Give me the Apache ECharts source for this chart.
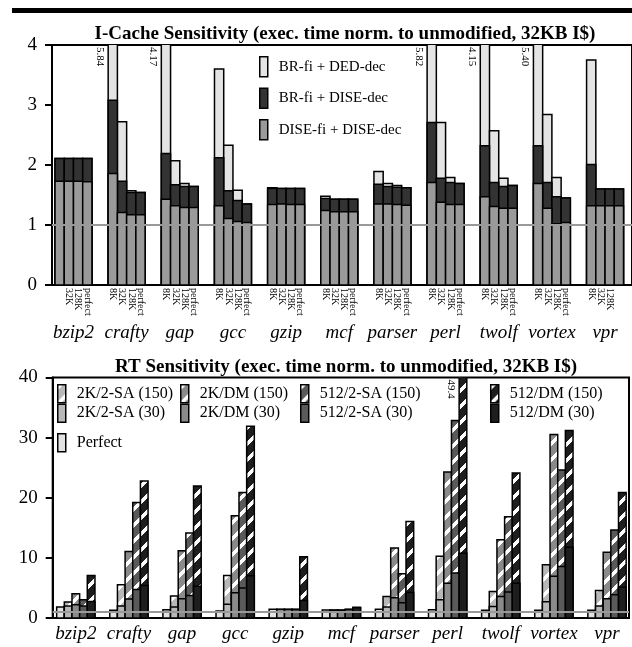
<!DOCTYPE html>
<html><head><meta charset="utf-8">
<script src="https://cdn.jsdelivr.net/npm/echarts@6/dist/echarts.min.js"></script>
<style>html,body{margin:0;padding:0;background:#fff}#c{width:632px;height:647px}</style>
</head><body><div id="c"></div>
<script>
// ---------- DATA ----------
const benchmarks = ['bzip2','crafty','gap','gcc','gzip','mcf','parser','perl','twolf','vortex','vpr'];
const icacheSizes = ['8K','32K','128K','perfect'];
const topYTicks = [0,1,2,3,4];
const bottomYTicks = [0,10,20,30,40];

// I-Cache sensitivity: per benchmark [8K, 32K, 128K, perfect]
const brFiDedDec = [
  [2.11,2.11,2.11,2.11],[5.84,2.72,1.57,1.54],[4.17,2.07,1.69,1.64],[3.60,2.33,1.58,1.35],
  [1.62,1.61,1.61,1.61],[1.48,1.43,1.43,1.43],[1.89,1.69,1.66,1.62],[5.82,2.71,1.79,1.69],
  [4.15,2.57,1.78,1.66],[5.40,2.84,1.79,1.45],[3.75,1.60,1.60,1.60]];
const brFiDiseDec = [
  [2.11,2.11,2.11,2.11],[3.08,1.73,1.54,1.54],[2.19,1.67,1.64,1.64],[2.12,1.57,1.41,1.35],
  [1.61,1.61,1.61,1.61],[1.44,1.43,1.43,1.43],[1.68,1.64,1.63,1.62],[2.71,1.78,1.71,1.69],
  [2.32,1.71,1.64,1.66],[2.32,1.71,1.47,1.45],[2.01,1.60,1.60,1.60]];
const diseFiDiseDec = [
  [1.73,1.73,1.73,1.72],[1.86,1.21,1.17,1.17],[1.43,1.32,1.29,1.29],[1.32,1.11,1.06,1.04],
  [1.34,1.35,1.34,1.34],[1.24,1.22,1.22,1.22],[1.35,1.35,1.34,1.33],[1.71,1.38,1.34,1.34],
  [1.47,1.31,1.28,1.28],[1.69,1.28,1.02,1.04],[1.32,1.32,1.32,1.32]];

// RT sensitivity
const rtPerfect   = [1.83,1.27,1.38,1.16,1.44,1.33,1.44,1.38,1.27,1.27,1.27];
const rt2k2sa150  = [2.65,5.53,3.65,7.07,1.44,1.33,3.59,10.27,4.42,8.84,4.59];
const rt2k2sa30   = [1.99,1.99,1.83,2.27,1.40,1.30,1.83,3.04,1.93,2.71,1.99];
const rt2kdm150   = [4.03,11.04,11.2,17.0,1.44,1.33,11.65,24.3,13.03,30.5,10.93];
const rt2kdm30    = [2.21,3.15,3.2,4.2,1.40,1.30,3.37,5.8,3.59,6.95,3.2];
const rt5122sa150 = [3.04,19.2,14.13,20.86,1.44,1.44,7.35,32.85,16.84,24.6,14.63];
const rt5122sa30  = [1.99,4.75,3.76,4.97,1.40,1.40,2.55,7.5,4.31,8.56,3.87];
const rt512dm150  = [7.07,22.8,21.97,31.9,10.2,1.77,16.07,49.4,24.12,31.2,20.86];
const rt512dm30   = [2.76,5.41,5.3,7.02,2.93,1.72,4.25,10.77,5.8,11.75,5.13];

// ---------- STYLE / LAYOUT ----------
const SERIF = 'Liberation Serif';
const TOP_W = 0.1737, BOT_W = 0.1442;
const TOP_MAX = 4, BOT_MAX = 40;

function stripe(base) {
  const c = document.createElement('canvas'); c.width = 16; c.height = 16;
  const g = c.getContext('2d');
  g.fillStyle = base; g.fillRect(0,0,16,16);
  g.fillStyle = '#ffffff';
  for (let y=0;y<16;y++) for (let x=0;x<16;x++) if (((x+y)%16) < 5) g.fillRect(x,y,1,1);
  return {image: c, repeat: 'repeat'};
}

function barShape(api, xc, w, v, yMax, digits, fill) {
  const p0 = api.coord([xc - w/2, 0]);
  const p1 = api.coord([xc + w/2, v]);
  const rect = {type:'rect', shape:{x:p0[0], y:p1[1], width:p1[0]-p0[0], height:p0[1]-p1[1]},
    style:{fill: fill, stroke:'#000', lineWidth:1.5}};
  if (v <= yMax) return rect;
  const pt = api.coord([xc - w/2, yMax]);
  return {type:'group', children:[rect, {type:'text', x: pt[0]-3, y: pt[1]+2, rotation: -Math.PI/2,
    style:{text: v.toFixed(digits), fill:'#000', font:'11px "Liberation Serif"', align:'left', verticalAlign:'top'}}]};
}

const topLayers = [
  {name:'BR-fi + DED-dec', values: brFiDedDec, color:'#e4e4e4'},
  {name:'BR-fi + DISE-dec', values: brFiDiseDec, color:'#333333'},
  {name:'DISE-fi + DISE-dec', values: diseFiDiseDec, color:'#9a9a9a'}
];
const topSeries = topLayers.map(L => ({
  type:'custom', name:L.name, xAxisIndex:0, yAxisIndex:0, clip:true, z:2,
  itemStyle:{color:L.color},
  encode:{x:0, y:2},
  data: L.values.flatMap((arr,i) => arr.map((v,s) => [i, s, v])),
  renderItem: (params, api) => {
    const xc = api.value(0) + (api.value(1) - 1.5) * TOP_W;
    return barShape(api, xc, TOP_W, api.value(2), TOP_MAX, 2, api.visual('color'));
  }
}));

const rtLayers = [
  {name:'Perfect', values: rtPerfect, pos:0, color:'#e2e2e2'},
  {name:'2K/2-SA (150)', values: rt2k2sa150, pos:1, color: stripe('#b8b8b8')},
  {name:'2K/DM (150)', values: rt2kdm150, pos:2, color: stripe('#8a8a8a')},
  {name:'512/2-SA (150)', values: rt5122sa150, pos:3, color: stripe('#5a5a5a')},
  {name:'512/DM (150)', values: rt512dm150, pos:4, color: stripe('#1e1e1e')},
  {name:'2K/2-SA (30)', values: rt2k2sa30, pos:1, color:'#b8b8b8'},
  {name:'2K/DM (30)', values: rt2kdm30, pos:2, color:'#8a8a8a'},
  {name:'512/2-SA (30)', values: rt5122sa30, pos:3, color:'#5a5a5a'},
  {name:'512/DM (30)', values: rt512dm30, pos:4, color:'#1e1e1e'}
];
const rtSeries = rtLayers.map(L => ({
  type:'custom', name:L.name, xAxisIndex:2, yAxisIndex:1, clip:true, z:2,
  itemStyle:{color:L.color},
  encode:{x:0, y:1},
  data: L.values.map((v,i) => [i, v]),
  renderItem: (params, api) => {
    const xc = api.value(0) + (L.pos - 2) * BOT_W;
    return barShape(api, xc, BOT_W, api.value(1), BOT_MAX, 1, api.visual('color'));
  }
}));

const refLine = (xi, yi) => ({type:'line', xAxisIndex:xi, yAxisIndex:yi, data:[], z:1, silent:true,
  markLine:{silent:true, symbol:['none','none'], label:{show:false}, animation:false,
    lineStyle:{color:'#999', width:2, type:'solid'}, data:[{yAxis:1}]}});

const subPositions = [];
benchmarks.forEach((b,i) => icacheSizes.forEach((s,k) => subPositions.push(i + (k-1.5)*TOP_W)));
const benchPositions = benchmarks.map((b,i) => i);

const noLine = {show:false};
const legendBase = {orient:'vertical', icon:'rect', itemWidth:8, itemGap:0, padding:0, selectedMode:false,
  itemStyle:{borderColor:'#000', borderWidth:1.5},
  textStyle:{fontFamily:SERIF, fontSize:16, color:'#000', padding:[0,0,0,6]}};

const yAxisBase = {type:'value', axisLine:{show:true, onZero:false, lineStyle:{color:'#000', width:2}},
  axisTick:{show:true, length:7, lineStyle:{color:'#000', width:2}},
  splitLine:noLine, axisLabel:{margin:15, fontFamily:SERIF, fontSize:19, color:'#000'}};

const option = {
  animation:false,
  backgroundColor:'#fff',
  graphic:[{type:'rect', left:12, top:8, shape:{width:620, height:5}, style:{fill:'#000'}}],
  title:[
    {text:'I-Cache Sensitivity (exec. time norm. to unmodified, 32KB I$)', left:340, top:20, textAlign:'center',
     textStyle:{fontFamily:SERIF, fontWeight:'bold', fontSize:19, color:'#000'}},
    {text:'RT Sensitivity (exec. time norm. to unmodified, 32KB I$)', left:341, top:353, textAlign:'center',
     textStyle:{fontFamily:SERIF, fontWeight:'bold', fontSize:19, color:'#000'}}
  ],
  legend:[
    Object.assign({}, legendBase, {left:259, top:56, itemHeight:20, itemGap:10,
      data:topLayers.map(l=>l.name), textStyle:{fontFamily:SERIF, fontSize:15, color:'#000', padding:[0,0,0,6]}}),
    Object.assign({}, legendBase, {left:57, top:384, itemHeight:18, data:['2K/2-SA (150)','2K/2-SA (30)']}),
    Object.assign({}, legendBase, {left:180, top:384, itemHeight:18, data:['2K/DM (150)','2K/DM (30)']}),
    Object.assign({}, legendBase, {left:300, top:384, itemHeight:18, data:['512/2-SA (150)','512/2-SA (30)']}),
    Object.assign({}, legendBase, {left:490, top:384, itemHeight:18, data:['512/DM (150)','512/DM (30)']}),
    Object.assign({}, legendBase, {left:57, top:433, itemHeight:18, data:['Perfect']})
  ],
  grid:[
    {left:52, top:45, width:581, height:240, show:true, borderColor:'#000', borderWidth:2, backgroundColor:'transparent'},
    {left:52.7, top:377.5, right:3, height:240.5, show:true, borderColor:'#000', borderWidth:2, backgroundColor:'transparent'}
  ],
  xAxis:[
    {gridIndex:0, type:'value', position:'bottom', min:-0.404, max:10.507, axisLine:{show:false, onZero:false}, axisTick:noLine, splitLine:noLine,
     axisLabel:{customValues:subPositions, rotate:-90, margin:3, fontFamily:SERIF, fontSize:10, color:'#000',
       formatter:(v)=>{const k=subPositions.findIndex(p=>Math.abs(p-v)<1e-6); return k<0?'':icacheSizes[k%4];}}},
    {gridIndex:0, type:'value', position:'bottom', min:-0.404, max:10.507, axisLine:{show:false, onZero:false}, axisTick:noLine, splitLine:noLine,
     axisLabel:{customValues:benchPositions, margin:38, fontFamily:SERIF, fontStyle:'italic', fontSize:19, color:'#000',
       formatter:(v)=>benchmarks[Math.round(v)] || ''}},
    {gridIndex:1, type:'value', position:'bottom', min:-0.435, max:10.414, axisLine:{show:false, onZero:false}, axisTick:noLine, splitLine:noLine,
     axisLabel:{customValues:benchPositions, margin:6, fontFamily:SERIF, fontStyle:'italic', fontSize:19, color:'#000',
       formatter:(v)=>benchmarks[Math.round(v)] || ''}}
  ],
  yAxis:[
    Object.assign({}, yAxisBase, {gridIndex:0, min:topYTicks[0], max:topYTicks[topYTicks.length-1], interval:1}),
    Object.assign({}, yAxisBase, {gridIndex:1, min:bottomYTicks[0], max:bottomYTicks[bottomYTicks.length-1], interval:10})
  ],
  series:[refLine(0,0), refLine(2,1)].concat(topSeries, rtSeries)
};

const chart = echarts.init(document.getElementById('c'), null, {renderer:'canvas'});
chart.setOption(option);
</script></body></html>
